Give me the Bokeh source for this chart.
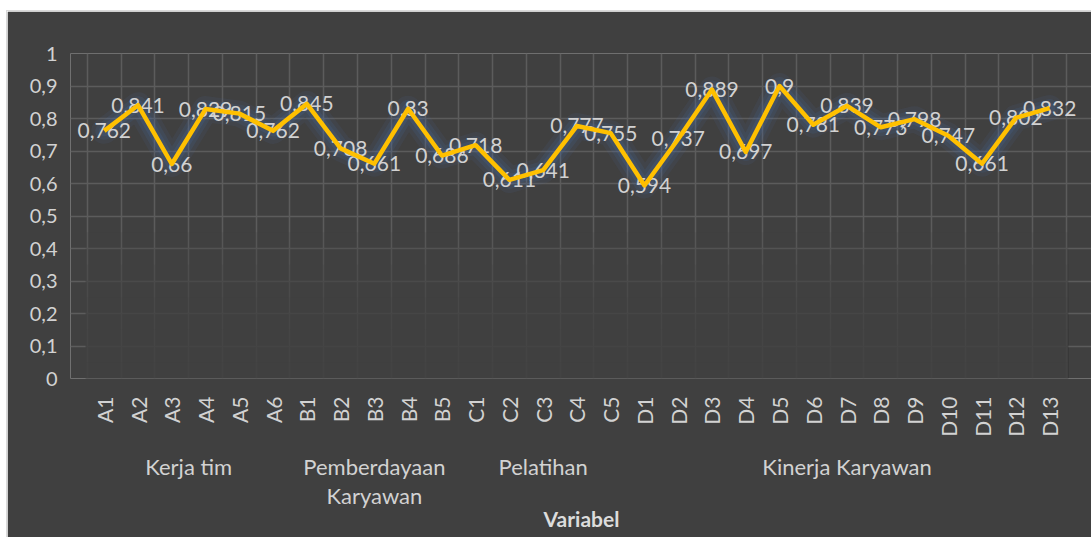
from bokeh.plotting import figure
from bokeh.models import (ColumnDataSource, FixedTicker, LinearAxis, Range1d, Grid,
                          Label, BoxAnnotation)
from bokeh.embed import file_html
from bokeh.resources import INLINE

# ---- data ----
groups = ["Kerja tim", "Pemberdayaan\nKaryawan", "Pelatihan", "Kinerja Karyawan"]
group_items = [
    ["A1", "A2", "A3", "A4", "A5", "A6"],
    ["B1", "B2", "B3", "B4", "B5"],
    ["C1", "C2", "C3", "C4", "C5"],
    ["D1", "D2", "D3", "D4", "D5", "D6", "D7", "D8", "D9", "D10", "D11", "D12", "D13"],
]
values_A = [0.762, 0.841, 0.66, 0.829, 0.815, 0.762]
values_B = [0.845, 0.708, 0.661, 0.83, 0.686]
values_C = [0.718, 0.611, 0.641, 0.777, 0.755]
values_D = [0.594, 0.737, 0.889, 0.697, 0.9, 0.781, 0.839, 0.773, 0.798, 0.747, 0.661, 0.802, 0.832]
y_ticks = [0, 0.1, 0.2, 0.3, 0.4, 0.5, 0.6, 0.7, 0.8, 0.9, 1]

# ---- build ----
items = [it for g in group_items for it in g]
vals = values_A + values_B + values_C + values_D
xs = list(range(1, len(items) + 1))
labels = [("%g" % v).replace(".", ",") for v in vals]
src = ColumnDataSource(dict(x=xs, y=vals, lab=labels))
x_lo, x_hi = 0.5, len(items) + 0.5

BG = "#404040"
GRID = "#5c5c5c"
TXT = "#d2d2d2"
FONT = "Lato"

# frame is a little wider than the gridded plot area so labels at the ends are not clipped
p = figure(width=1085, height=527, output_backend="svg", toolbar_location=None,
           x_range=Range1d(x_lo - 0.5, x_hi + 0.77), y_range=Range1d(0, 1),
           background_fill_color=BG, border_fill_color=BG,
           min_border_left=63, min_border_right=0, min_border_top=42, min_border_bottom=160,
           x_axis_type=None)
p.outline_line_color = None
p.styles = {"margin-left": "6px", "margin-top": "10px",
            "border-left": "1px solid #d9d9d9", "border-top": "1px solid #d9d9d9"}

# y axis
p.yaxis.ticker = FixedTicker(ticks=y_ticks)
p.yaxis.major_label_overrides = {t: ("%g" % t).replace(".", ",") for t in y_ticks}
p.yaxis.axis_line_color = None
p.yaxis.major_tick_line_color = None
p.yaxis.minor_tick_line_color = None
p.yaxis.major_label_standoff = 7
p.yaxis.major_label_text_font = FONT
p.yaxis.major_label_text_font_size = "20px"
p.yaxis.major_label_text_color = TXT
p.ygrid.ticker = FixedTicker(ticks=y_ticks)
p.ygrid.grid_line_color = GRID
p.ygrid.grid_line_width = 1.5
p.ygrid.bounds = (x_lo, x_hi)

# x item axis
xa = LinearAxis(ticker=FixedTicker(ticks=xs),
                major_label_overrides={x: it for x, it in zip(xs, items)})
xa.major_label_orientation = 3.14159265 / 2
xa.axis_line_color = None
xa.major_tick_line_color = None
xa.minor_tick_line_color = None
xa.major_label_standoff = 12
xa.major_label_text_font = FONT
xa.major_label_text_font_size = "21px"
xa.major_label_text_color = TXT
p.add_layout(xa, "below")

# vertical grid at category boundaries
bounds = [x - 0.5 for x in xs] + [x_hi]
vg = Grid(dimension=0, ticker=FixedTicker(ticks=bounds), grid_line_color=GRID, grid_line_width=1.5)
p.add_layout(vg)

# fade of the gridlines towards the bottom
for k in range(9):
    p.add_layout(BoxAnnotation(left=x_lo - 0.05, right=x_hi + 0.05, bottom=0, top=0.45 - 0.05 * k,
                               fill_color=BG, fill_alpha=0.2,
                               line_color=None, level="annotation", editable=False))

# group axis
centers = []
start = 1
for g in group_items:
    centers.append(start + (len(g) - 1) / 2)
    start += len(g)
ga = LinearAxis(ticker=FixedTicker(ticks=centers),
                major_label_overrides={c: g for c, g in zip(centers, groups)})
ga.axis_line_color = None
ga.major_tick_line_color = None
ga.minor_tick_line_color = None
ga.major_label_standoff = 7
ga.major_label_text_font = FONT
ga.major_label_text_font_size = "22px"
ga.major_label_text_color = TXT
ga.major_label_text_line_height = 1.1
ga.axis_label = "Variabel"
ga.axis_label_text_font = FONT
ga.axis_label_text_font_style = "bold"
ga.axis_label_text_font_size = "21px"
ga.axis_label_text_color = "#dcdcdc"
ga.axis_label_text_align = "right"
ga.axis_label_standoff = -6
p.add_layout(ga, "below")

# glow
for w, a in [(26, 0.10), (18, 0.14), (11, 0.18)]:
    p.line("x", "y", source=src, line_color="#4a6fa8", line_width=w, line_alpha=a,
           line_join="round", line_cap="round")

# data labels
for x, y, t in zip(xs, vals, labels):
    p.add_layout(Label(x=x, y=y, text=t, text_align="center", text_baseline="middle",
                       text_font=FONT, text_font_size="21px", text_color=TXT))

# main line
ln = p.line("x", "y", source=src, line_color="#FFC000", line_width=4.5, line_join="round")
ln.level = "overlay"

open("out.html", "w").write(file_html(p, INLINE))
